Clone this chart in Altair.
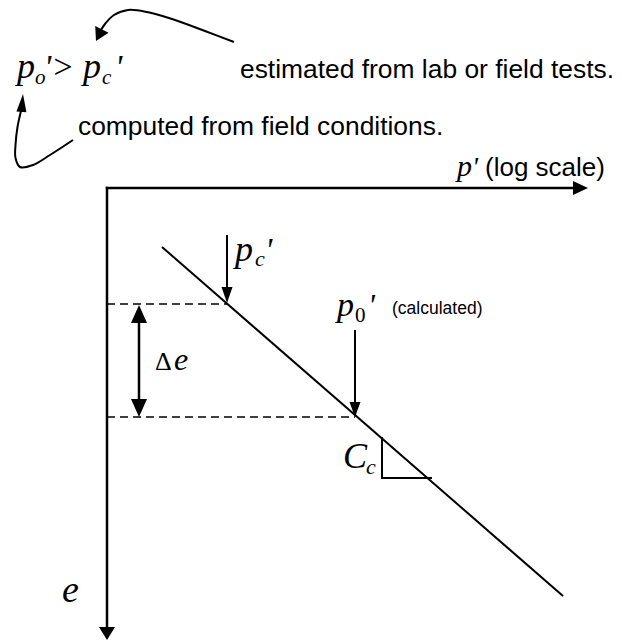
import altair as alt
import pandas as pd

# Diagram frame: x grows to the right, y grows downward (0..622, 0..640)
W, H = 622, 640

# ---- straight solid segments -------------------------------------------
seg_names = ["p_axis", "e_axis", "ncl", "pc_shaft", "p0_shaft", "de_shaft",
             "tri_v", "tri_h"]
seg_x1 = [105.8, 107, 162, 227, 355, 139, 382, 381]
seg_y1 = [188, 186.8, 247, 235, 330, 318, 437, 478]
seg_x2 = [575, 107, 563, 227, 355, 139, 382, 432]
seg_y2 = [188, 628, 596, 290, 403, 404, 478, 478]
seg_w = [2.5, 2.5, 2, 2, 2, 2.5, 2, 2]

# ---- dashed reference levels --------------------------------------------
dash_x1 = [107, 107]
dash_y1 = [304, 417]
dash_x2 = [227, 355]
dash_y2 = [304, 417]

# ---- curved leader arrows (ordered points) ------------------------------
curve1_x = [234, 205, 172, 147, 128, 114, 105, 101]
curve1_y = [42, 31, 19, 12, 10, 15, 24, 30]
curve2_x = [73, 50, 33, 20, 15.5, 15.5, 17.5, 21]
curve2_y = [140, 155, 165, 167, 158, 145, 127, 111]

# ---- arrowheads: tip, heading (deg clockwise from up), length, width -----
head_x = [588, 107, 227, 355, 139, 139, 96, 23]
head_y = [188, 640, 303, 417, 305, 417, 41, 94]
head_angle = [90, 180, 180, 180, 0, 180, 207, 5]
head_len = [15, 13, 16, 15, 18, 18, 13, 18]
head_wid = [14, 16, 11, 11, 16, 16, 15, 10]

# ---- labels ---------------------------------------------------------------
# italic math symbols
ital_text = ["p", "o", "'>", "p", "c", "'",
             "p", "'",
             "p", "c", "'",
             "p", "'",
             "e",
             "C", "c",
             "e"]
ital_x = [17, 35, 44, 83, 102, 115,
          457, 472,
          235, 255, 265,
          337, 368,
          174,
          343, 366,
          62]
ital_y = [78, 84, 78, 78, 84, 78,
          176, 176,
          261, 266, 261,
          316, 316,
          370,
          468, 474,
          602]
ital_size = [36, 21, 34, 36, 21, 34,
             30, 28,
             36, 22, 34,
             34, 32,
             32,
             36, 22,
             38]

# upright math symbols
rom_text = ["0", "Δ"]
rom_x = [355, 155]
rom_y = [322, 370]
rom_size = [21, 26]

sans_text = ["estimated from lab or field tests.",
             "computed from field conditions.",
             "(log scale)",
             "(calculated)"]
sans_x = [240, 78, 485, 392]
sans_y = [78, 135, 176, 314]
sans_size = [26.4, 26.4, 26, 17.5]

xs = alt.Scale(domain=[0, W], range=[0, W])
ys = alt.Scale(domain=[0, H], range=[0, H])

segs = pd.DataFrame({"name": seg_names, "x": seg_x1, "y": seg_y1,
                     "x2": seg_x2, "y2": seg_y2, "w": seg_w})
dashes = pd.DataFrame({"x": dash_x1, "y": dash_y1, "x2": dash_x2, "y2": dash_y2})
curves = pd.DataFrame({
    "curve": ["a"] * len(curve1_x) + ["b"] * len(curve2_x),
    "i": list(range(len(curve1_x))) + list(range(len(curve2_x))),
    "x": curve1_x + curve2_x,
    "y": curve1_y + curve2_y,
})
heads = pd.DataFrame({
    "x": head_x, "y": head_y, "angle": head_angle,
    # symbol path in pixel units (size 4 -> scale factor 1), tip at origin
    "path": [f"M0,0L{-w / 2},{l}L{w / 2},{l}Z" for l, w in zip(head_len, head_wid)],
})
ital = pd.DataFrame({"t": ital_text, "x": ital_x, "y": ital_y, "s": ital_size})
rom = pd.DataFrame({"t": rom_text, "x": rom_x, "y": rom_y, "s": rom_size})
sans = pd.DataFrame({"t": sans_text, "x": sans_x, "y": sans_y, "s": sans_size})

X = lambda f="x": alt.X(f"{f}:Q", scale=xs, axis=None)
Y = lambda f="y": alt.Y(f"{f}:Q", scale=ys, axis=None)

solid = alt.Chart(segs).mark_rule(color="black").encode(
    x=X(), y=Y(), x2="x2:Q", y2="y2:Q",
    strokeWidth=alt.StrokeWidth("w:Q", scale=None),
)
dashed = alt.Chart(dashes).mark_rule(color="black", strokeWidth=1.6,
                                     strokeDash=[8, 5]).encode(
    x=X(), y=Y(), x2="x2:Q", y2="y2:Q",
)
leaders = alt.Chart(curves).mark_line(color="black", strokeWidth=2,
                                      interpolate="catmull-rom").encode(
    x=X(), y=Y(), detail="curve:N", order="i:Q",
)
arrowheads = alt.Chart(heads).mark_point(filled=True, color="black", opacity=1,
                                         size=4, strokeWidth=0).encode(
    x=X(), y=Y(),
    shape=alt.Shape("path:N", scale=None),
    angle=alt.Angle("angle:Q", scale=None),
)
ital_labels = alt.Chart(ital).mark_text(font="Liberation Serif", fontStyle="italic",
                                        align="left", baseline="alphabetic",
                                        color="black").encode(
    x=X(), y=Y(), text="t:N", size=alt.Size("s:Q", scale=None),
)
rom_labels = alt.Chart(rom).mark_text(font="Liberation Serif",
                                      align="left", baseline="alphabetic",
                                      color="black").encode(
    x=X(), y=Y(), text="t:N", size=alt.Size("s:Q", scale=None),
)
notes = alt.Chart(sans).mark_text(font="Liberation Sans", align="left",
                                  baseline="alphabetic", color="black").encode(
    x=X(), y=Y(), text="t:N", size=alt.Size("s:Q", scale=None),
)

chart = alt.layer(solid, dashed, leaders, arrowheads,
                  ital_labels, rom_labels, notes).properties(
    width=W, height=H, padding=0, autosize=alt.AutoSizeParams(type="none"),
    background="white",
).configure_view(stroke=None)

chart.save("out.html", embed_options={"renderer": "svg", "actions": False})
